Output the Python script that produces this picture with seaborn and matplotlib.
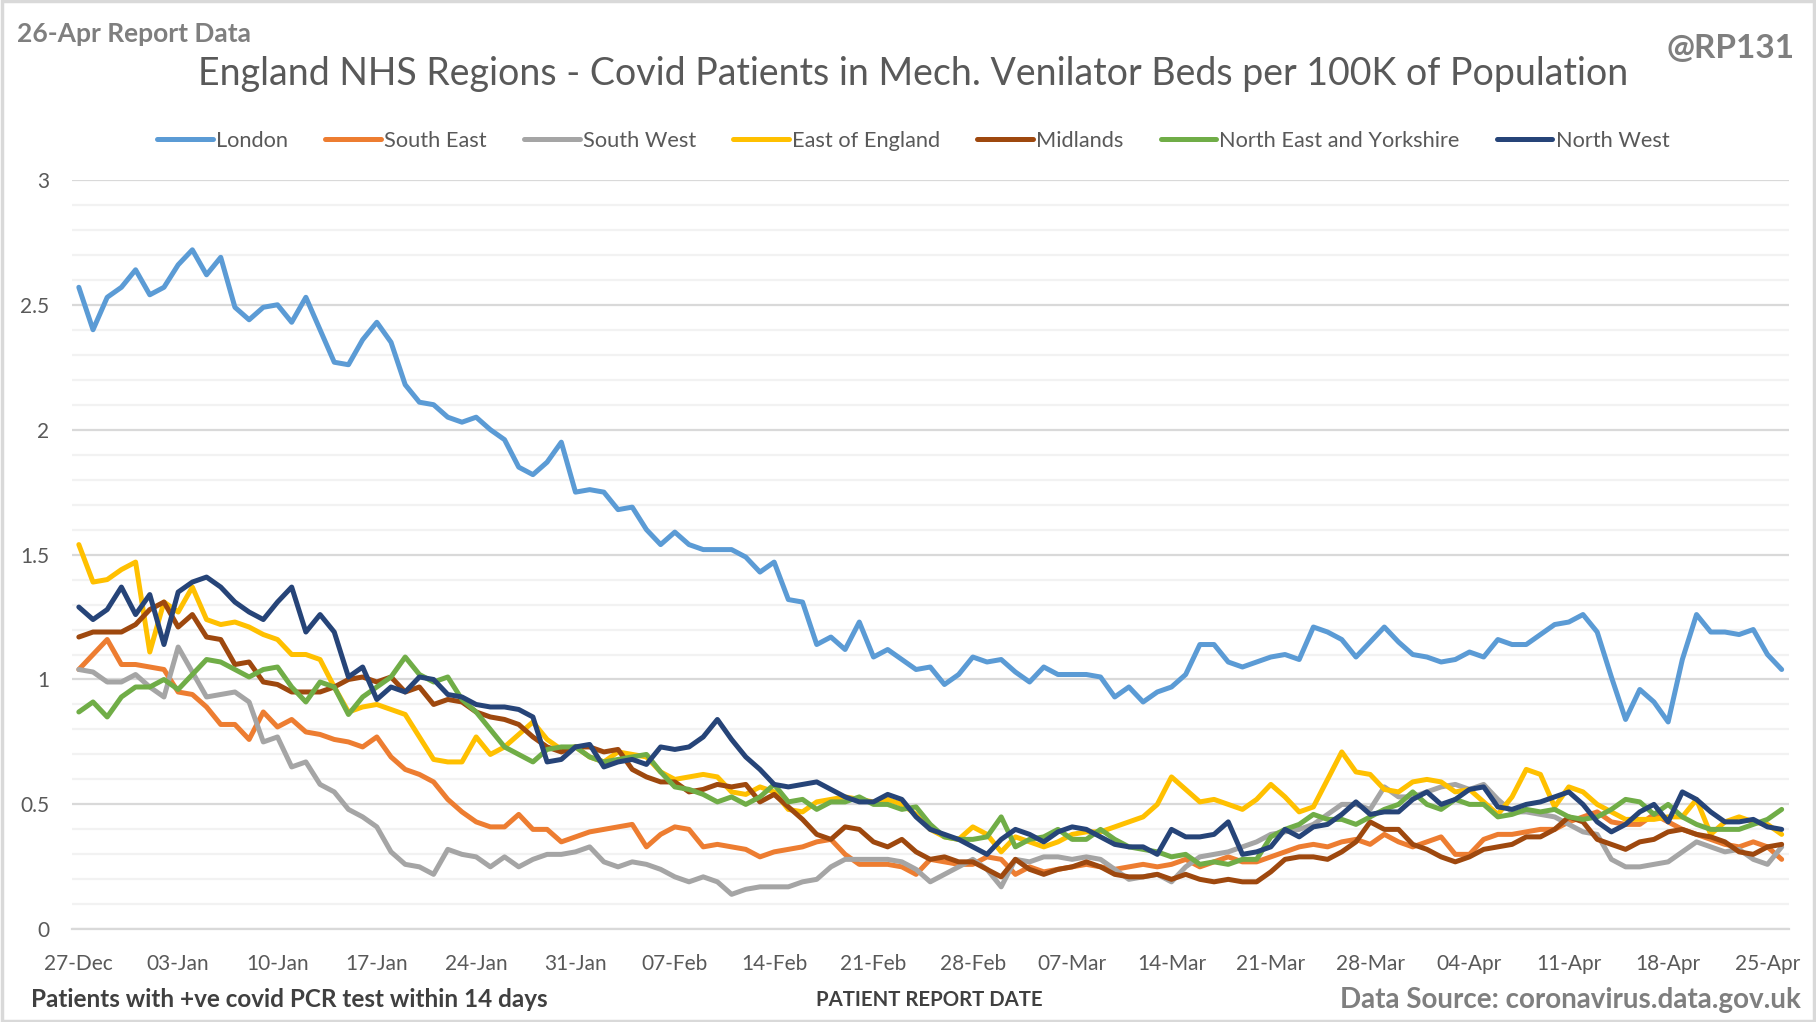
import numpy as np
import pandas as pd
import matplotlib
matplotlib.use("Agg")
import matplotlib.pyplot as plt
import matplotlib.dates as mdates
from matplotlib.patches import Rectangle
from matplotlib.lines import Line2D
import seaborn as sns

dates = pd.date_range("2020-12-27", periods=121, freq="D")

london = [
    2.57, 2.40, 2.53, 2.57, 2.64, 2.54, 2.57, 2.66, 2.72, 2.62,
    2.69, 2.49, 2.44, 2.49, 2.50, 2.43, 2.53, 2.40, 2.27, 2.26,
    2.36, 2.43, 2.35, 2.18, 2.11, 2.10, 2.05, 2.03, 2.05, 2.00,
    1.96, 1.85, 1.82, 1.87, 1.95, 1.75, 1.76, 1.75, 1.68, 1.69,
    1.60, 1.54, 1.59, 1.54, 1.52, 1.52, 1.52, 1.49, 1.43, 1.47,
    1.32, 1.31, 1.14, 1.17, 1.12, 1.23, 1.09, 1.12, 1.08, 1.04,
    1.05, 0.98, 1.02, 1.09, 1.07, 1.08, 1.03, 0.99, 1.05, 1.02,
    1.02, 1.02, 1.01, 0.93, 0.97, 0.91, 0.95, 0.97, 1.02, 1.14,
    1.14, 1.07, 1.05, 1.07, 1.09, 1.10, 1.08, 1.21, 1.19, 1.16,
    1.09, 1.15, 1.21, 1.15, 1.10, 1.09, 1.07, 1.08, 1.11, 1.09,
    1.16, 1.14, 1.14, 1.18, 1.22, 1.23, 1.26, 1.19, 1.01, 0.84,
    0.96, 0.91, 0.83, 1.08, 1.26, 1.19, 1.19, 1.18, 1.20, 1.10,
    1.04]

south_east = [
    1.04, 1.10, 1.16, 1.06, 1.06, 1.05, 1.04, 0.95, 0.94, 0.89,
    0.82, 0.82, 0.76, 0.87, 0.81, 0.84, 0.79, 0.78, 0.76, 0.75,
    0.73, 0.77, 0.69, 0.64, 0.62, 0.59, 0.52, 0.47, 0.43, 0.41,
    0.41, 0.46, 0.40, 0.40, 0.35, 0.37, 0.39, 0.40, 0.41, 0.42,
    0.33, 0.38, 0.41, 0.40, 0.33, 0.34, 0.33, 0.32, 0.29, 0.31,
    0.32, 0.33, 0.35, 0.36, 0.30, 0.26, 0.26, 0.26, 0.25, 0.22,
    0.28, 0.27, 0.26, 0.26, 0.29, 0.28, 0.22, 0.25, 0.23, 0.24,
    0.25, 0.26, 0.25, 0.24, 0.25, 0.26, 0.25, 0.26, 0.28, 0.25,
    0.27, 0.29, 0.27, 0.27, 0.29, 0.31, 0.33, 0.34, 0.33, 0.35,
    0.36, 0.34, 0.38, 0.35, 0.33, 0.35, 0.37, 0.30, 0.30, 0.36,
    0.38, 0.38, 0.39, 0.40, 0.40, 0.43, 0.45, 0.47, 0.43, 0.42,
    0.42, 0.46, 0.43, 0.40, 0.38, 0.36, 0.34, 0.33, 0.35, 0.33,
    0.28]

south_west = [
    1.04, 1.03, 0.99, 0.99, 1.02, 0.97, 0.93, 1.13, 1.03, 0.93,
    0.94, 0.95, 0.91, 0.75, 0.77, 0.65, 0.67, 0.58, 0.55, 0.48,
    0.45, 0.41, 0.31, 0.26, 0.25, 0.22, 0.32, 0.30, 0.29, 0.25,
    0.29, 0.25, 0.28, 0.30, 0.30, 0.31, 0.33, 0.27, 0.25, 0.27,
    0.26, 0.24, 0.21, 0.19, 0.21, 0.19, 0.14, 0.16, 0.17, 0.17,
    0.17, 0.19, 0.20, 0.25, 0.28, 0.28, 0.28, 0.28, 0.27, 0.24,
    0.19, 0.22, 0.25, 0.28, 0.24, 0.17, 0.28, 0.27, 0.29, 0.29,
    0.28, 0.29, 0.28, 0.24, 0.20, 0.21, 0.22, 0.19, 0.25, 0.29,
    0.30, 0.31, 0.33, 0.35, 0.38, 0.39, 0.40, 0.42, 0.46, 0.50,
    0.50, 0.48, 0.57, 0.53, 0.53, 0.55, 0.57, 0.58, 0.56, 0.58,
    0.52, 0.47, 0.47, 0.46, 0.45, 0.42, 0.39, 0.38, 0.28, 0.25,
    0.25, 0.26, 0.27, 0.31, 0.35, 0.33, 0.31, 0.32, 0.28, 0.26,
    0.33]

east_of_england = [
    1.54, 1.39, 1.40, 1.44, 1.47, 1.11, 1.31, 1.27, 1.37, 1.24,
    1.22, 1.23, 1.21, 1.18, 1.16, 1.10, 1.10, 1.08, 0.97, 0.87,
    0.89, 0.90, 0.88, 0.86, 0.77, 0.68, 0.67, 0.67, 0.77, 0.70,
    0.73, 0.78, 0.83, 0.76, 0.72, 0.73, 0.69, 0.67, 0.71, 0.70,
    0.69, 0.63, 0.60, 0.61, 0.62, 0.61, 0.55, 0.54, 0.57, 0.55,
    0.48, 0.47, 0.51, 0.52, 0.53, 0.52, 0.51, 0.52, 0.50, 0.46,
    0.40, 0.37, 0.36, 0.41, 0.38, 0.31, 0.37, 0.35, 0.33, 0.35,
    0.38, 0.39, 0.39, 0.41, 0.43, 0.45, 0.50, 0.61, 0.56, 0.51,
    0.52, 0.50, 0.48, 0.52, 0.58, 0.53, 0.47, 0.49, 0.60, 0.71,
    0.63, 0.62, 0.56, 0.55, 0.59, 0.60, 0.59, 0.55, 0.56, 0.51,
    0.46, 0.53, 0.64, 0.62, 0.49, 0.57, 0.55, 0.50, 0.47, 0.44,
    0.44, 0.44, 0.45, 0.45, 0.52, 0.38, 0.43, 0.45, 0.43, 0.42,
    0.38]

midlands = [
    1.17, 1.19, 1.19, 1.19, 1.22, 1.28, 1.31, 1.21, 1.26, 1.17,
    1.16, 1.06, 1.07, 0.99, 0.98, 0.95, 0.95, 0.95, 0.97, 1.00,
    1.01, 0.99, 1.01, 0.95, 0.97, 0.90, 0.92, 0.91, 0.87, 0.85,
    0.84, 0.82, 0.77, 0.73, 0.71, 0.73, 0.73, 0.71, 0.72, 0.64,
    0.61, 0.59, 0.59, 0.55, 0.56, 0.58, 0.57, 0.58, 0.51, 0.54,
    0.49, 0.44, 0.38, 0.36, 0.41, 0.40, 0.35, 0.33, 0.36, 0.31,
    0.28, 0.29, 0.27, 0.27, 0.24, 0.21, 0.28, 0.24, 0.22, 0.24,
    0.25, 0.27, 0.25, 0.22, 0.21, 0.21, 0.22, 0.20, 0.22, 0.20,
    0.19, 0.20, 0.19, 0.19, 0.23, 0.28, 0.29, 0.29, 0.28, 0.31,
    0.35, 0.43, 0.40, 0.40, 0.34, 0.32, 0.29, 0.27, 0.29, 0.32,
    0.33, 0.34, 0.37, 0.37, 0.40, 0.45, 0.43, 0.36, 0.34, 0.32,
    0.35, 0.36, 0.39, 0.40, 0.38, 0.37, 0.35, 0.31, 0.30, 0.33,
    0.34]

north_east_yorks = [
    0.87, 0.91, 0.85, 0.93, 0.97, 0.97, 1.00, 0.96, 1.02, 1.08,
    1.07, 1.04, 1.01, 1.04, 1.05, 0.97, 0.91, 0.99, 0.97, 0.86,
    0.93, 0.97, 1.01, 1.09, 1.02, 0.99, 1.01, 0.92, 0.87, 0.80,
    0.73, 0.70, 0.67, 0.72, 0.73, 0.73, 0.69, 0.67, 0.68, 0.69,
    0.70, 0.63, 0.57, 0.56, 0.54, 0.51, 0.53, 0.50, 0.53, 0.58,
    0.51, 0.52, 0.48, 0.51, 0.51, 0.53, 0.50, 0.50, 0.48, 0.49,
    0.42, 0.37, 0.36, 0.36, 0.37, 0.45, 0.33, 0.36, 0.37, 0.40,
    0.36, 0.36, 0.40, 0.36, 0.33, 0.32, 0.31, 0.29, 0.30, 0.26,
    0.27, 0.26, 0.28, 0.28, 0.37, 0.40, 0.42, 0.46, 0.44, 0.44,
    0.42, 0.45, 0.48, 0.50, 0.55, 0.50, 0.48, 0.52, 0.50, 0.50,
    0.45, 0.46, 0.48, 0.47, 0.48, 0.45, 0.44, 0.45, 0.48, 0.52,
    0.51, 0.46, 0.50, 0.45, 0.42, 0.40, 0.40, 0.40, 0.42, 0.44,
    0.48]

north_west = [
    1.29, 1.24, 1.28, 1.37, 1.26, 1.34, 1.14, 1.35, 1.39, 1.41,
    1.37, 1.31, 1.27, 1.24, 1.31, 1.37, 1.19, 1.26, 1.19, 1.01,
    1.05, 0.92, 0.97, 0.95, 1.01, 1.00, 0.94, 0.93, 0.90, 0.89,
    0.89, 0.88, 0.85, 0.67, 0.68, 0.73, 0.74, 0.65, 0.67, 0.68,
    0.66, 0.73, 0.72, 0.73, 0.77, 0.84, 0.76, 0.69, 0.64, 0.58,
    0.57, 0.58, 0.59, 0.56, 0.53, 0.51, 0.51, 0.54, 0.52, 0.45,
    0.40, 0.38, 0.36, 0.33, 0.30, 0.36, 0.40, 0.38, 0.35, 0.39,
    0.41, 0.40, 0.37, 0.34, 0.33, 0.33, 0.30, 0.40, 0.37, 0.37,
    0.38, 0.43, 0.30, 0.31, 0.33, 0.40, 0.37, 0.41, 0.42, 0.46,
    0.51, 0.46, 0.47, 0.47, 0.52, 0.55, 0.50, 0.52, 0.56, 0.57,
    0.49, 0.48, 0.50, 0.51, 0.53, 0.55, 0.50, 0.43, 0.39, 0.42,
    0.47, 0.50, 0.43, 0.55, 0.52, 0.47, 0.43, 0.43, 0.44, 0.41,
    0.40]

regions = ["London", "South East", "South West", "East of England",
           "Midlands", "North East and Yorkshire", "North West"]
series = [london, south_east, south_west, east_of_england,
          midlands, north_east_yorks, north_west]
colours = ["#5B9BD5", "#ED7D31", "#A5A5A5", "#FFC000",
           "#9E480E", "#70AD47", "#264478"]

df = pd.concat([pd.DataFrame({"date": dates, "value": v, "region": r})
                for r, v in zip(regions, series)], ignore_index=True)

sns.set_theme(style="white")
plt.rcParams["font.family"] = ["Lato", "DejaVu Sans"]

fig = plt.figure(figsize=(18.16, 10.22), dpi=100)
ax = fig.add_axes([0.0395, 0.0907, 0.9455, 0.7333])

sns.lineplot(data=df, x="date", y="value", hue="region", hue_order=regions,
             palette=colours, linewidth=3.6, legend=False, ax=ax)
for ln in ax.lines:
    ln.set_solid_joinstyle("round")
    ln.set_solid_capstyle("round")

# axes styling, Excel look
ax.set_ylim(0, 3)
ax.set_xlim(dates[0] - pd.Timedelta(hours=12), dates[-1] + pd.Timedelta(hours=12))
ax.set_yticks(np.arange(0, 3.01, 0.5))
ax.set_yticks(np.arange(0, 3.01, 0.1), minor=True)
ax.set_yticklabels(["0", "0.5", "1", "1.5", "2", "2.5", "3"])
ax.grid(axis="y", which="minor", color="#f2f2f2", linewidth=1.6)
ax.grid(axis="y", which="major", color="#d9d9d9", linewidth=1.6)
ax.set_axisbelow(True)
ax.set_xticks(dates[::7])
ax.xaxis.set_major_formatter(mdates.DateFormatter("%d-%b"))
for s in ["top", "right", "left"]:
    ax.spines[s].set_visible(False)
ax.spines["bottom"].set_color("#d9d9d9")
ax.spines["bottom"].set_linewidth(1.6)
ax.tick_params(axis="x", which="major", length=6, color="#d9d9d9", width=1.4,
               labelsize=15, labelcolor="#595959", pad=12)
ax.tick_params(axis="y", which="both", length=0, labelsize=15, labelcolor="#595959", pad=16)
ax.set_xlabel("")
ax.set_ylabel("")

# legend
handles = [Line2D([0], [0], color=c, linewidth=3.6) for c in colours]
fig.legend(handles, regions, loc="center", bbox_to_anchor=(0.503, 0.862),
           ncol=7, frameon=False, fontsize=15.7, handlelength=2.55,
           handletextpad=0.15, columnspacing=1.7, labelcolor="#595959")

# texts
fig.text(0.503, 0.928, "England NHS Regions - Covid Patients in Mech. Venilator Beds per 100K of Population",
         ha="center", va="center", fontsize=27, color="#595959")
fig.text(0.0096, 0.967, "26-Apr Report Data", ha="left", va="center",
         fontsize=19, fontweight="bold", color="#7f7f7f")
fig.text(0.9885, 0.953, "@RP131", ha="right", va="center",
         fontsize=24, fontweight="bold", color="#7f7f7f")
fig.text(0.0172, 0.022, "Patients with +ve covid PCR test within 14 days", ha="left", va="center",
         fontsize=17.5, fontweight="bold", color="#404040")
fig.text(0.512, 0.022, "PATIENT REPORT DATE", ha="center", va="center",
         fontsize=14.7, fontweight="bold", color="#404040")
fig.text(0.9917, 0.022, "Data Source: coronavirus.data.gov.uk", ha="right", va="center",
         fontsize=20, fontweight="bold", color="#7f7f7f")

fig.patches.append(Rectangle((0.001, 0.001), 0.998, 0.998, transform=fig.transFigure,
                             fill=False, edgecolor="#d9d9d9", linewidth=2.5))

fig.savefig("out.png", dpi=100)
